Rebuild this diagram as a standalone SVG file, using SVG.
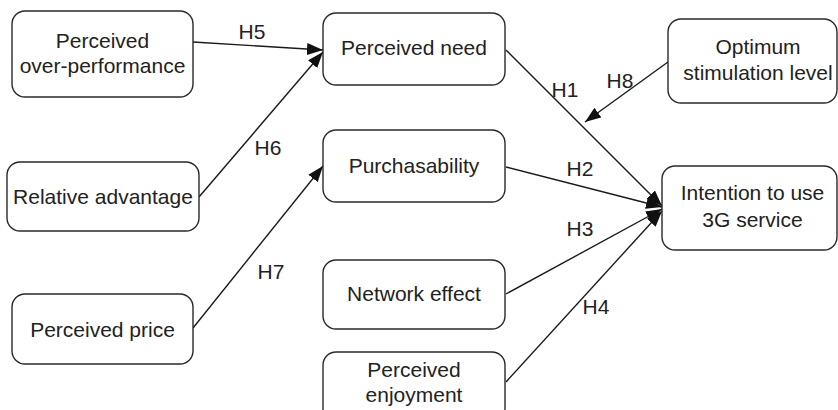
<svg xmlns="http://www.w3.org/2000/svg" width="838" height="410" viewBox="0 0 838 410">
<defs>
<style>
.box{fill:#fff;stroke:#2a2a2a;stroke-width:1.4}
.t{font-family:"Liberation Sans",Arial,sans-serif;font-size:21px;fill:#222;text-anchor:middle}
.e{stroke:#1a1a1a;stroke-width:1.4;fill:none;marker-end:url(#ah)}
</style>
<marker id="ah" viewBox="0 0 16 12" refX="16" refY="6" markerWidth="16" markerHeight="12" markerUnits="userSpaceOnUse" orient="auto">
<path d="M0,0 L16,6 L0,12 Z" fill="#111"/>
</marker>
</defs>
<rect width="838" height="410" fill="#fff"/>
<g id="edges">
<line class="e" x1="193" y1="42" x2="323" y2="50"/>
<line class="e" x1="199" y1="197" x2="323" y2="52"/>
<line class="e" x1="193" y1="328" x2="323" y2="166"/>
<line class="e" x1="506" y1="50" x2="662" y2="206"/>
<line class="e" x1="506" y1="167" x2="662" y2="207"/>
<line class="e" x1="506" y1="294" x2="662" y2="209"/>
<line class="e" x1="506" y1="382" x2="662" y2="211"/>
<line class="e" x1="668" y1="62" x2="585" y2="122"/>
<text class="t" x="252" y="39">H5</text>
<text class="t" x="268" y="155">H6</text>
<text class="t" x="271" y="279">H7</text>
<text class="t" x="565" y="97">H1</text>
<text class="t" x="620" y="88">H8</text>
<text class="t" x="580" y="176">H2</text>
<text class="t" x="580" y="236">H3</text>
<text class="t" x="596" y="314">H4</text>
</g>
<g id="n_overperf">
<rect class="box" x="12" y="11" width="181" height="86" rx="13"/>
<text class="t" x="102.5" y="48">Perceived</text>
<text class="t" x="102.5" y="73">over-performance</text>
</g>
<g id="n_reladv">
<rect class="box" x="7" y="162" width="192" height="69" rx="13"/>
<text class="t" x="103" y="204">Relative advantage</text>
</g>
<g id="n_price">
<rect class="box" x="12" y="294" width="181" height="70" rx="13"/>
<text class="t" x="102.5" y="337">Perceived price</text>
</g>
<g id="n_need">
<rect class="box" x="323" y="13" width="182" height="72" rx="13"/>
<text class="t" x="414" y="55">Perceived need</text>
</g>
<g id="n_purch">
<rect class="box" x="323" y="130" width="182" height="72" rx="13"/>
<text class="t" x="414" y="173">Purchasability</text>
</g>
<g id="n_network">
<rect class="box" x="323" y="260" width="182" height="69" rx="13"/>
<text class="t" x="414" y="301">Network effect</text>
</g>
<g id="n_enjoy">
<rect class="box" x="323" y="352" width="182" height="70" rx="13"/>
<text class="t" x="414" y="377">Perceived</text>
<text class="t" x="414" y="402">enjoyment</text>
</g>
<g id="n_osl">
<rect class="box" x="668" y="19" width="169" height="84" rx="13"/>
<text class="t" x="758" y="54">Optimum</text>
<text class="t" x="758" y="80">stimulation level</text>
</g>
<g id="n_intent">
<rect class="box" x="662" y="166" width="175" height="84" rx="13"/>
<text class="t" x="752.5" y="200">Intention to use</text>
<text class="t" x="752.5" y="227">3G service</text>
</g>
</svg>
